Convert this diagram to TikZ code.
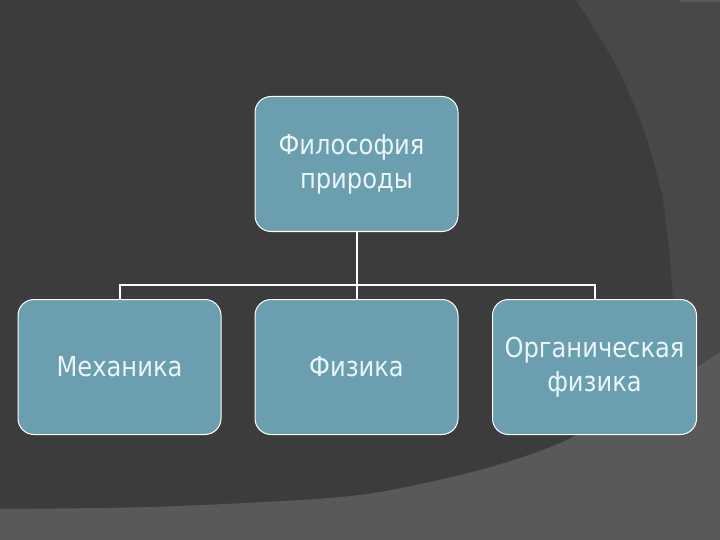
\documentclass[tikz,border=0pt]{standalone}
\usepackage{fontspec}
\newfontfamily\boxfont[FakeStretch=0.88]{DejaVu Sans}
\definecolor{bgbase}{HTML}{3C3C3C}
\definecolor{bgmid}{HTML}{484848}
\definecolor{bglight}{HTML}{595959}
\definecolor{boxfill}{HTML}{6B9EAE}
\definecolor{boxtext}{HTML}{EAF6F8}
\tikzset{
  box/.style={draw=white, line width=1pt, fill=boxfill, rounded corners=16pt,
    minimum width=203pt, minimum height=135pt, align=center, text=boxtext,
    inner sep=0pt, font=\boxfont\fontsize{27.5}{34}\selectfont},
  conn/.style={draw=white, line width=2pt}
}
\begin{document}
\begin{tikzpicture}[x=1pt,y=-1pt]
\useasboundingbox (0,0) rectangle (720,540);
% background
\fill[bgbase] (0,0) rectangle (720,540);
\fill[bgmid] plot[smooth] coordinates {(576,0) (597,33) (617,67) (632,100) (645,133) (655,167) (663,200) (669,250) (673,300) (675,350) (676,420)} -- (720,420) -- (720,0) -- cycle;
\fill[bglight] plot[smooth] coordinates {(0,509) (150,507) (300,500) (380,492) (480,470) (560,443) (640,400) (697,367) (720,352)} -- (720,540) -- (0,540) -- cycle;
\fill[bglight] (680,0) rectangle (720,2);
% boxes
\node[box] (top) at (356.5,164) {Философия\kern10pt\\ природы};
\node[box] (left) at (119.5,367) {Механика};
\node[box] (mid) at (356.5,367) {Физика};
\node[box, minimum width=204pt] (right) at (594.5,367) {Органическая\\ физика};
% connectors
\coordinate (bus) at (0,285);
\draw[conn] (top.south) -- (mid.north);
\draw[conn] (left.north) -- (left.north |- bus) -| (right.north);
\end{tikzpicture}
\end{document}
